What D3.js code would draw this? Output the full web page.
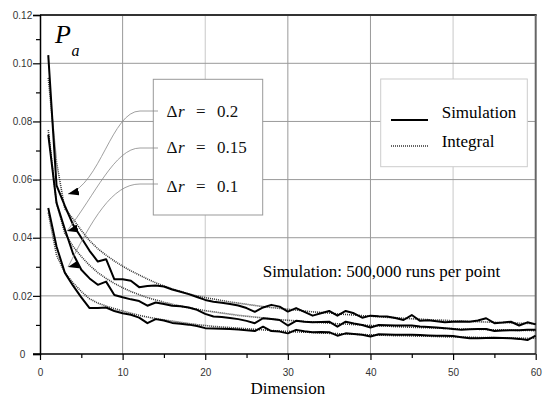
<!DOCTYPE html>
<html><head><meta charset="utf-8">
<script src="https://cdn.jsdelivr.net/npm/d3@7"></script>
<style>body{margin:0;background:#fff}svg{display:block}</style>
</head><body><svg id="c" width="550" height="401"></svg>
<script>
// ---- data ----
const dims = d3.range(1, 61);
const simTop = [.1034,.058,.051,.0445,.040,.0355,.0318,.0326,.0257,.0257,.0252,.0230,.0234,.0236,.0232,.0222,.0214,.0206,.0196,.0186,
 .0180,.0176,.0172,.0167,.0158,.0145,.0160,.0169,.0163,.0146,.0158,.0145,.0132,.0140,.0148,.0132,.0148,.0140,.0125,.0132,
 .0130,.0129,.0124,.0117,.0134,.0114,.0116,.0113,.0109,.0111,.0112,.0111,.0115,.0123,.0106,.0108,.0111,.0098,.0109,.0102];
const intTop = [.095,.066,.050,.0465,.0425,.039,.0362,.034,.032,.0302,.0286,.0272,.0258,.0245,.0234,.0224,.0215,.0207,.0200,.0194,
 .0189,.0184,.0179,.0175,.0171,.0167,.0163,.0160,.0157,.0154,.0151,.0148,.0145,.0143,.0141,.0138,.0136,.0134,.0132,.0130,
 .0128,.0126,.0125,.0123,.0121,.0120,.0118,.0117,.0116,.0114,.0113,.0112,.0111,.0110,.0109,.0108,.0107,.0106,.0105,.0104];
const simMid = [.0755,.052,.043,.0345,.029,.026,.0238,.0249,.0203,.0195,.0188,.0182,.0166,.0177,.0172,.0166,.0164,.0160,.0152,.0138,
 .0129,.0127,.0124,.0120,.0114,.0106,.0123,.0120,.0117,.0098,.0114,.0111,.0109,.0110,.0111,.0094,.0111,.0105,.0100,.0091,
 .0100,.0099,.0098,.0098,.0098,.0095,.0093,.0091,.0089,.0086,.0083,.0085,.0086,.0086,.0079,.0081,.0082,.0082,.0083,.0083];
const intMid = [.077,.052,.0415,.037,.0335,.0305,.028,.026,.0243,.0228,.0215,.0204,.0194,.0186,.0178,.0171,.0165,.0159,.0154,.0149,
 .0145,.0141,.0137,.0133,.0130,.0127,.0124,.0121,.0118,.0116,.0114,.0112,.0110,.0108,.0106,.0104,.0103,.0101,.0100,.0098,
 .0097,.0096,.0094,.0093,.0092,.0091,.0090,.0089,.0088,.0087,.0086,.0085,.0085,.0084,.0083,.0083,.0082,.0081,.0081,.0080];
const simBot = [.0502,.037,.028,.0235,.0195,.0158,.0158,.0160,.0148,.0140,.0135,.0125,.0106,.0120,.0115,.0107,.0104,.0101,.0096,.0089,
 .0088,.0087,.0086,.0084,.0082,.0079,.0094,.0079,.0077,.0071,.0083,.0078,.0075,.0076,.0075,.0063,.0071,.0069,.0066,.0060,
 .0068,.0067,.0066,.0066,.0066,.0065,.0064,.0063,.0063,.0062,.0058,.0054,.0054,.0055,.0056,.0055,.0054,.0052,.0048,.0063];
const intBot = [.0486,.034,.028,.0245,.0215,.019,.0175,.0165,.0156,.0148,.0140,.0133,.0127,.0122,.0117,.0113,.0109,.0105,.0101,.0098,
 .0095,.0093,.0091,.0089,.0087,.0085,.0083,.0081,.0079,.0078,.0076,.0075,.0074,.0072,.0071,.0070,.0069,.0068,.0067,.0066,
 .0065,.0064,.0063,.0063,.0062,.0061,.0061,.0060,.0059,.0059,.0058,.0058,.0057,.0057,.0056,.0056,.0055,.0055,.0054,.0054];
const xTicks = [0,10,20,30,40,50,60];
const xMinor = [5,15,25,35,45,55];
const yTicks = [0,0.02,0.04,0.06,0.08,0.10,0.12];
const yMinor = [0.01,0.03,0.05,0.07,0.09,0.11];
const drLabels = ["0.2","0.15","0.1"];

// ---- scales ----
const svg = d3.select("#c");
const x = d3.scaleLinear().domain([0,60]).range([40,535.7]);
const y = d3.scaleLinear().domain([0,0.10,0.12]).range([354,63.3,15]);
const SERIF = '"Liberation Serif"';
const SANS = '"Liberation Sans"';

// grid
const g = svg.append("g");
g.selectAll(".vg").data(xTicks.slice(1,-1)).join("line")
  .attr("x1",d=>x(d)).attr("x2",d=>x(d)).attr("y1",y(0)).attr("y2",y(0.12))
  .attr("stroke",(d)=> (d===20||d===50)?"#c8c8c8":"#999").attr("stroke-width",1);
g.selectAll(".hg").data(yTicks.slice(1,-1)).join("line")
  .attr("x1",x(0)).attr("x2",x(60)).attr("y1",d=>y(d)).attr("y2",d=>y(d))
  .attr("stroke","#999").attr("stroke-width",1);

// frame top/right
svg.append("line").attr("x1",x(0)).attr("x2",x(60)+1).attr("y1",y(0.12)).attr("y2",y(0.12)).attr("stroke","#333").attr("stroke-width",2);
svg.append("line").attr("x1",x(60)).attr("x2",x(60)).attr("y1",y(0.12)).attr("y2",y(0)).attr("stroke","#666").attr("stroke-width",2);

// axes
const ya = svg.append("g").attr("transform",`translate(${x(0)},0)`)
  .call(d3.axisLeft(y).tickValues(yTicks).tickSize(7).tickPadding(0)
    .tickFormat(d=> d===0?"0":d3.format(".2f")(d)));
ya.select(".domain").attr("stroke","#000").attr("stroke-width",1.5);
ya.selectAll(".tick line").attr("stroke","#000").attr("stroke-width",1.2);
ya.selectAll("text").attr("x",-17.5).attr("text-anchor","middle").style("font-family",SANS).attr("font-size",10).attr("fill","#333");
const ym = svg.append("g").attr("transform",`translate(${x(0)},0)`)
  .call(d3.axisLeft(y).tickValues(yMinor).tickSize(4).tickFormat(""));
ym.select(".domain").remove();
ym.selectAll(".tick line").attr("stroke","#000").attr("stroke-width",1.2);

const xa = svg.append("g").attr("transform",`translate(0,${y(0)})`)
  .call(d3.axisBottom(x).tickValues(xTicks).tickSize(6).tickPadding(9));
xa.select(".domain").attr("stroke","#000").attr("stroke-width",1.5).attr("d",`M${x(0)-7},0H${x(60)}`);
xa.selectAll(".tick line").attr("stroke","#000").attr("stroke-width",1.2);
xa.selectAll("text").style("font-family",SANS).attr("font-size",10).attr("fill","#333");
const xm = svg.append("g").attr("transform",`translate(0,${y(0)})`)
  .call(d3.axisBottom(x).tickValues(xMinor).tickSize(4).tickFormat(""));
xm.select(".domain").remove();
xm.selectAll(".tick line").attr("stroke","#000").attr("stroke-width",1.2);

// lines
const line = d3.line().x((d,i)=>x(dims[i])).y(d=>y(d));
[intTop,intMid,intBot].forEach(s=>{
  svg.append("path").attr("d",line(s)).attr("fill","none").attr("stroke","#333")
    .attr("stroke-width",1.6).attr("stroke-dasharray","1,1");
});
[simTop,simMid,simBot].forEach(s=>{
  svg.append("path").attr("d",line(s)).attr("fill","none").attr("stroke","#000")
    .attr("stroke-width",2).attr("stroke-linejoin","round");
});

// P_a label
const pa = svg.append("text").style("font-family",SERIF).attr("x",55).attr("y",43).attr("font-style","italic").attr("font-size",26);
pa.append("tspan").text("P");
pa.append("tspan").attr("font-size",16).attr("dy",13).attr("dx",0.5).text("a");

// Δr box
svg.append("rect").attr("x",153.3).attr("y",79.3).attr("width",109.4).attr("height",135.7)
  .attr("fill","#fff").attr("stroke","#999").attr("stroke-width",1);
const defs = svg.append("defs");
defs.append("marker").attr("id","arr").attr("viewBox","0 -4 11 8").attr("refX",0).attr("refY",0)
  .attr("markerWidth",11).attr("markerHeight",8).attr("markerUnits","userSpaceOnUse").attr("orient","-14")
  .append("path").attr("d","M0,0L11,-4L11,4Z").attr("fill","#000");
const conn = [
  "M158,111L140,111C112,111 100,185 68,194",
  "M158,148L140,148C115,148 95,195 67,231",
  "M158,184L140,184C112,184 92,220 68,267"
];
conn.forEach(p=>svg.append("path").attr("d",p).attr("fill","none").attr("stroke","#888").attr("stroke-width",0.8).attr("marker-end","url(#arr)"));
const drY = [116.7,152.7,191.7];
drLabels.forEach((v,i)=>{
  const t = svg.append("text").style("font-family",SERIF).attr("y",drY[i]).attr("font-size",17).attr("fill","#111");
  t.append("tspan").attr("x",166.5).text("Δ");
  t.append("tspan").attr("font-style","italic").attr("dx",0.5).text("r");
  t.append("tspan").attr("x",196).text("=");
  t.append("tspan").attr("x",217).text(v);
});

// legend box
svg.append("rect").attr("x",380.7).attr("y",79).attr("width",146.6).attr("height",87.7)
  .attr("fill","#fff").attr("stroke","#ccc").attr("stroke-width",1);
svg.append("line").attr("x1",391).attr("x2",428).attr("y1",120).attr("y2",120).attr("stroke","#000").attr("stroke-width",2);
svg.append("line").attr("x1",391).attr("x2",428).attr("y1",146).attr("y2",146).attr("stroke","#333").attr("stroke-width",1.4).attr("stroke-dasharray","1,1");
svg.append("text").style("font-family",SERIF).attr("x",441.7).attr("y",118.3).attr("font-size",17).text("Simulation");
svg.append("text").style("font-family",SERIF).attr("x",441.7).attr("y",147.3).attr("font-size",17).text("Integral");

svg.append("text").style("font-family",SERIF).attr("x",262.7).attr("y",276.7).attr("font-size",17).text("Simulation: 500,000 runs per point");
svg.append("text").style("font-family",SERIF).attr("x",(x(0)+x(60))/2).attr("y",394).attr("text-anchor","middle").attr("font-size",17).text("Dimension");
</script></body></html>
